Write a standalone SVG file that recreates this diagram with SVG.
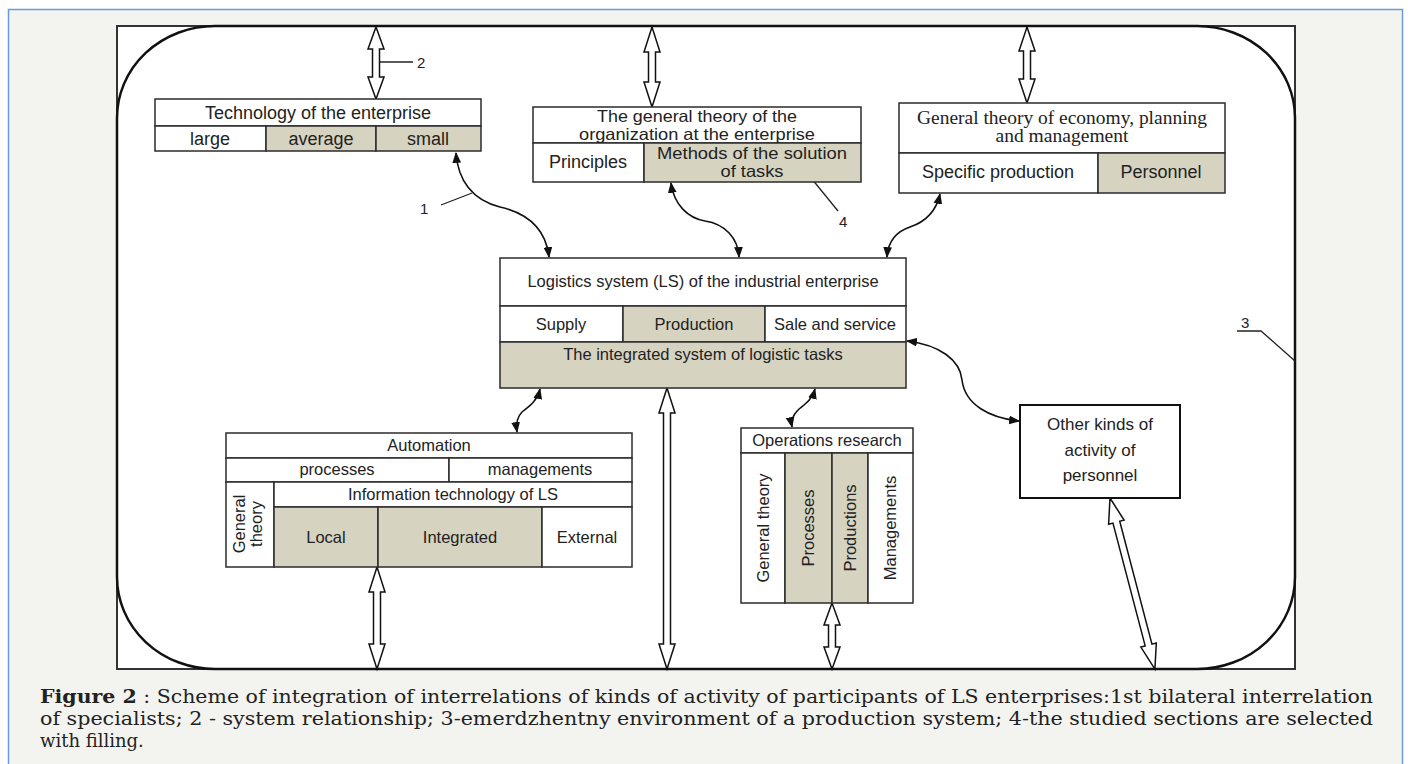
<svg xmlns="http://www.w3.org/2000/svg" width="1408" height="764" viewBox="0 0 1408 764">
<defs>
<style>
.box{fill:#fff;stroke:#2b2b2b;stroke-width:1.5}
.sh{fill:#d6d3c1;stroke:#2b2b2b;stroke-width:1.5}
.t{font-family:"Liberation Sans",Arial,sans-serif;font-size:16.5px;fill:#222;text-anchor:middle}
.tb{font-family:"Liberation Sans",Arial,sans-serif;font-size:18px;fill:#222;text-anchor:middle}
.tt{font-family:"Liberation Sans",Arial,sans-serif;font-size:16.5px;fill:#222;text-anchor:middle}
.ts{font-family:"Liberation Serif","Times New Roman",serif;font-size:18px;fill:#222;text-anchor:middle}
.n{font-family:"Liberation Sans",Arial,sans-serif;font-size:15px;fill:#222}
.dbl{fill:#fff;stroke:#111;stroke-width:1.5;stroke-linejoin:miter}
.cv{fill:none;stroke:#111;stroke-width:1.6;marker-start:url(#ah);marker-end:url(#ah)}
.ld{stroke:#222;stroke-width:1.3;fill:none}
.cap{font-family:"DejaVu Serif",serif;font-size:18px;fill:#222}
</style>
<marker id="ah" viewBox="0 0 10 8" refX="9" refY="4" markerWidth="11" markerHeight="9" markerUnits="userSpaceOnUse" orient="auto-start-reverse">
<path d="M0,0 L10,4 L0,8 z" fill="#111"/>
</marker>
</defs>
<rect x="0" y="0" width="1408" height="764" fill="#fff"/>
<rect x="8.5" y="9.5" width="1394" height="770" fill="#f3f3ef" stroke="#6a9bd8" stroke-width="1.5"/>
<g id="frame">
<rect x="117" y="26" width="1178" height="643" fill="#fff" stroke="#333" stroke-width="2"/>
<rect x="117" y="26" width="1178" height="643" rx="98" ry="92" fill="none" stroke="#111" stroke-width="2.5"/>
</g>
<g id="connectors">
<path class="dbl" d="M376,27 L384,49 L379.5,49 L379.5,77 L384,77 L376,99 L368,77 L372.5,77 L372.5,49 L368,49 Z"/>
<path class="dbl" d="M652,27 L660,52 L655.5,52 L655.5,82 L660,82 L652,107 L644,82 L648.5,82 L648.5,52 L644,52 Z"/>
<path class="dbl" d="M1027,27 L1035,51 L1030.5,51 L1030.5,79 L1035,79 L1027,103 L1019,79 L1023.5,79 L1023.5,51 L1019,51 Z"/>
<path class="dbl" d="M377,567 L385,592 L380.5,592 L380.5,644 L385,644 L377,669 L369,644 L373.5,644 L373.5,592 L369,592 Z"/>
<path class="dbl" d="M667,388 L675,413 L670.5,413 L670.5,644 L675,644 L667,669 L659,644 L663.5,644 L663.5,413 L659,413 Z"/>
<path class="dbl" d="M832,603 L840,625 L835.5,625 L835.5,647 L840,647 L832,669 L824,647 L828.5,647 L828.5,625 L824,625 Z"/>
<path class="dbl" transform="translate(1110,498) rotate(-14.7)" d="M0,0 L8,25 L3.5,25 L3.5,152 L8,152 L0,177 L-8,152 L-3.5,152 L-3.5,25 L-8,25 Z"/>
<path class="cv" d="M456,153 C458,180 472,200 500,207 C530,214 546,230 549,257"/>
<path class="cv" d="M671,183 C674,205 688,218 705,221 C725,224 738,238 739,257"/>
<path class="cv" d="M940,194 C936,212 925,222 910,227 C895,232 888,242 887,257"/>
<path class="cv" d="M540,389 C537,402 528,407 522,412 C516,418 516,425 517,432"/>
<path class="cv" d="M815,389 C812,400 805,404 798,410 C792,416 791,422 792,427"/>
<path class="cv" d="M907,341 C940,345 960,360 962,380 C965,405 990,418 1019,421"/>
<path class="ld" d="M380,62 L413,62"/>
<path class="ld" d="M441,205 L472,193"/>
<path class="ld" d="M803,168 L838,211"/>
<path class="ld" d="M1237,331 L1261,331 L1295,361"/>
<text class="n" x="417" y="68">2</text>
<text class="n" x="420" y="214">1</text>
<text class="n" x="839" y="227">4</text>
<text class="n" x="1241" y="328">3</text>
</g>
<g id="tech">
<rect class="box" x="155" y="99" width="326" height="27"/>
<rect class="box" x="155" y="126" width="111" height="25"/>
<rect class="sh" x="266" y="126" width="110" height="25"/>
<rect class="sh" x="376" y="126" width="105" height="25"/>
<text class="tb" x="318" y="119">Technology of the enterprise</text>
<text class="tb" x="210" y="145">large</text>
<text class="tb" x="321" y="145">average</text>
<text class="tb" x="428" y="145">small</text>
</g>
<g id="org">
<rect class="box" x="533" y="107" width="328" height="36"/>
<rect class="box" x="533" y="143" width="111" height="39"/>
<rect class="sh" x="644" y="143" width="217" height="39"/>
<text class="tt" x="697" y="122" textLength="200" lengthAdjust="spacingAndGlyphs">The general theory of the</text>
<text class="tt" x="697" y="140" textLength="236" lengthAdjust="spacingAndGlyphs">organization at the enterprise</text>
<text class="tb" x="588" y="168">Principles</text>
<text class="tt" x="752" y="159" textLength="190" lengthAdjust="spacingAndGlyphs">Methods of the solution</text>
<text class="tt" x="752" y="177" textLength="63" lengthAdjust="spacingAndGlyphs">of tasks</text>
</g>
<g id="econ">
<rect class="box" x="899" y="103" width="326" height="50"/>
<rect class="box" x="899" y="153" width="199" height="40"/>
<rect class="sh" x="1098" y="153" width="127" height="40"/>
<text class="ts" x="1062" y="124" textLength="290" lengthAdjust="spacingAndGlyphs">General theory of economy, planning</text>
<text class="ts" x="1062" y="142" textLength="133" lengthAdjust="spacingAndGlyphs">and management</text>
<text class="tb" x="998" y="178">Specific production</text>
<text class="tb" x="1161" y="178">Personnel</text>
</g>
<g id="ls">
<rect class="box" x="500" y="258" width="406" height="48"/>
<rect class="box" x="500" y="306" width="123" height="36"/>
<rect class="sh" x="623" y="306" width="142" height="36"/>
<rect class="box" x="765" y="306" width="141" height="36"/>
<rect class="sh" x="500" y="342" width="406" height="46"/>
<text class="t" x="703" y="287">Logistics system (LS) of the industrial enterprise</text>
<text class="t" x="561" y="330">Supply</text>
<text class="t" x="694" y="330">Production</text>
<text class="t" x="835" y="330">Sale and service</text>
<text class="t" x="703" y="360">The integrated system of logistic tasks</text>
</g>
<g id="auto">
<rect class="box" x="226" y="433" width="406" height="25"/>
<rect class="box" x="226" y="458" width="223" height="24"/>
<rect class="box" x="449" y="458" width="183" height="24"/>
<rect class="box" x="226" y="482" width="48" height="85"/>
<rect class="box" x="274" y="482" width="358" height="25"/>
<rect class="sh" x="274" y="507" width="104" height="60"/>
<rect class="sh" x="378" y="507" width="164" height="60"/>
<rect class="box" x="542" y="507" width="90" height="60"/>
<text class="t" x="429" y="451">Automation</text>
<text class="t" x="337" y="475">processes</text>
<text class="t" x="540" y="475">managements</text>
<text class="t" x="453" y="500">Information technology of LS</text>
<text class="t" x="326" y="543">Local</text>
<text class="t" x="460" y="543">Integrated</text>
<text class="t" x="587" y="543">External</text>
<text class="t" transform="translate(245,524) rotate(-90)">General</text>
<text class="t" transform="translate(262,524) rotate(-90)">theory</text>
</g>
<g id="ops">
<rect class="box" x="741" y="428" width="172" height="25"/>
<rect class="box" x="741" y="453" width="44" height="150"/>
<rect class="sh" x="785" y="453" width="47" height="150"/>
<rect class="sh" x="832" y="453" width="36" height="150"/>
<rect class="box" x="868" y="453" width="45" height="150"/>
<text class="t" x="827" y="446">Operations research</text>
<text class="t" transform="translate(769,528) rotate(-90)">General theory</text>
<text class="t" transform="translate(814,528) rotate(-90)">Processes</text>
<text class="t" transform="translate(856,528) rotate(-90)">Productions</text>
<text class="t" transform="translate(896,528) rotate(-90)">Managements</text>
</g>
<g id="other">
<rect x="1020" y="405" width="160" height="93" fill="#fff" stroke="#111" stroke-width="2"/>
<text class="t" x="1100" y="430" style="font-size:17px">Other kinds of</text>
<text class="t" x="1100" y="456" style="font-size:17px">activity of</text>
<text class="t" x="1100" y="481" style="font-size:17px">personnel</text>
</g>
<g id="caption">
<text class="cap" x="40" y="703" textLength="1333" lengthAdjust="spacingAndGlyphs"><tspan font-weight="bold">Figure 2</tspan> : Scheme of integration of interrelations of kinds of activity of participants of LS enterprises:1st bilateral interrelation</text>
<text class="cap" x="40" y="725" textLength="1333" lengthAdjust="spacingAndGlyphs">of specialists; 2 - system relationship; 3-emerdzhentny environment of a production system; 4-the studied sections are selected</text>
<text class="cap" x="40" y="747">with filling.</text>
</g>
</svg>
